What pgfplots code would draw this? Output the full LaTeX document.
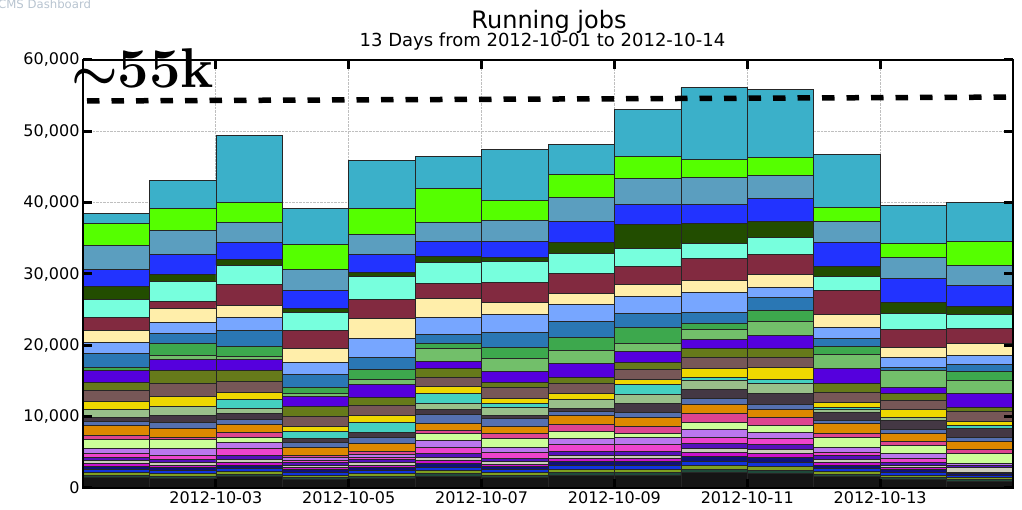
\documentclass[border=0pt]{standalone}
\usepackage{amsmath}
\usepackage{pgfplots}
\pgfplotsset{compat=1.18}
\usepackage{fontspec}
\newfontfamily\dejavu{DejaVu Sans}

% segment colours, bottom of the stack first
\definecolor{c-blk}{HTML}{151515}
\definecolor{c-dtl}{HTML}{1F4A3A}
\definecolor{c-olv2}{HTML}{7FA020}
\definecolor{c-blu2}{HTML}{1133DD}
\definecolor{c-nav}{HTML}{111177}
\definecolor{c-mag2}{HTML}{CC11CC}
\definecolor{c-sil}{HTML}{CCCCBB}
\definecolor{c-pur}{HTML}{5511BB}
\definecolor{c-mag}{HTML}{EE44CC}
\definecolor{c-lav}{HTML}{BB77EE}
\definecolor{c-lim}{HTML}{CCFF99}
\definecolor{c-pnk}{HTML}{DD4490}
\definecolor{c-org}{HTML}{DD8800}
\definecolor{c-sla}{HTML}{5570B0}
\definecolor{c-dgy}{HTML}{443844}
\definecolor{c-sag}{HTML}{99C08A}
\definecolor{c-tur}{HTML}{44D0C0}
\definecolor{c-yel}{HTML}{EED800}
\definecolor{c-brn}{HTML}{775757}
\definecolor{c-olv}{HTML}{667A1A}
\definecolor{c-vio}{HTML}{5500DD}
\definecolor{c-lgr}{HTML}{72BF6A}
\definecolor{c-gr2}{HTML}{3DA84D}
\definecolor{c-mbl}{HTML}{2A77B4}
\definecolor{c-lbl}{HTML}{77A6FF}
\definecolor{c-lyl}{HTML}{FFEEAA}
\definecolor{c-mar}{HTML}{822A40}
\definecolor{c-aqu}{HTML}{77FFDD}
\definecolor{c-dgr}{HTML}{224D00}
\definecolor{c-blu}{HTML}{2233FF}
\definecolor{c-stl}{HTML}{5B9EBF}
\definecolor{c-grn}{HTML}{55FF00}
\definecolor{c-cya}{HTML}{3BB0C9}
\definecolor{cmsgray}{HTML}{B8C4D0}

% running jobs per day (2012-10-01 ... 2012-10-14), one column per segment
\pgfplotstableread{
x blk dtl olv2 blu2 nav mag2 sil pur mag lav lim pnk org sla dgy sag tur yel brn olv vio lgr gr2 mbl lbl lyl mar aqu dgr blu stl grn cya
0.5 1540 280 420 420 420 420 420 420 560 700 1260 560 1400 560 560 1120 0 1120 1540 1120 1680 0 420 1960 1540 1680 1820 2520 1820 2380 3360 3080 1400
1.5 1400 280 420 420 420 280 420 420 560 980 1260 280 1260 840 980 1260 0 1400 1820 1820 1540 560 1680 1400 1540 1960 980 2800 980 2800 3360 3080 3920
2.5 1680 280 420 420 420 420 420 560 980 840 700 700 1120 700 840 700 1260 980 1540 1540 1540 420 1400 2240 1820 1680 2940 2660 840 2380 2800 2800 9380
3.5 1260 280 280 420 420 280 280 420 280 420 0 280 1120 700 560 0 980 700 1400 1400 1400 420 840 1820 1680 1960 2520 2520 560 2520 2940 3500 5040
4.5 1400 280 420 420 420 280 420 420 280 420 0 420 1120 840 700 0 1400 980 1400 1120 1820 700 1400 1680 2660 2800 2660 3220 560 2520 2800 3640 6720
5.5 1680 420 420 420 560 420 420 560 840 980 980 420 980 1260 700 840 1400 980 1260 1260 980 1820 700 1260 2380 2660 2100 2940 840 2100 2660 4760 4480
6.5 1540 280 420 420 420 280 420 420 840 700 1260 700 980 1120 420 1120 560 700 1540 700 1540 1820 1540 2100 2520 1680 2800 2940 560 2240 2940 2800 7140
7.5 1820 420 420 560 560 420 420 560 980 840 980 980 1260 560 420 1260 0 840 1400 840 1960 1820 1820 2240 2380 1540 2800 2800 1540 2940 3360 3220 4200
8.5 1820 420 420 560 560 420 420 560 980 980 560 980 1260 700 1260 1260 1400 700 1400 980 1540 1120 2240 1960 2380 1680 2520 2520 3360 2800 3640 3080 6580
9.5 2240 420 560 560 700 560 560 700 840 1120 980 1260 1260 840 1260 1260 420 1260 1540 1260 1260 1400 840 1540 2800 1680 3080 2100 2800 2660 3780 2520 10080
10.5 2100 420 560 560 700 560 560 700 840 840 980 1120 1120 700 1540 1400 560 1680 1400 1260 1820 1960 1540 1820 1400 1820 2800 2380 2240 3220 3220 2520 9520
11.5 1680 280 420 420 420 420 420 560 420 700 1400 560 1400 420 1120 420 280 700 1400 1260 2100 1960 1120 1120 1540 1820 3360 1960 1400 3360 2940 1960 7420
12.5 1260 280 280 420 420 280 280 420 560 700 1120 560 1120 560 1260 420 0 1120 1260 980 840 2380 0 420 1400 1400 2520 2240 1540 3360 2940 1960 5320
13.5 980 280 280 280 280 140 700 280 0 280 1400 560 1120 560 1260 0 420 560 1400 560 1960 1820 1260 980 1260 1680 2100 1960 1120 2940 2800 3360 5460
}\jobs

\begin{document}
\begin{tikzpicture}
\useasboundingbox (-83pt,-22pt) rectangle (939pt,488pt);

\begin{axis}[
    at={(0pt,0pt)}, anchor=south west,
    scale only axis, width=930pt, height=428pt,
    xmin=0, xmax=14, ymin=0, ymax=60000,
    ybar stacked, bar width=1,
    xtick={2,4,6,8,10,12},
    xticklabels={2012-10-03,2012-10-05,2012-10-07,2012-10-09,2012-10-11,2012-10-13},
    ytick={0,10000,20000,30000,40000,50000,60000},
    scaled y ticks=false,
    /pgf/number format/1000 sep={,},
    /pgf/number format/assume math mode=true,
    tick label style={font=\dejavu\fontsize{16}{16}\selectfont},
    grid=major,
    major grid style={densely dotted, black!25, line width=0.8pt},
    major tick length=0pt,
    axis line style={black, line width=1.2pt},
    every axis plot/.append style={draw=black!85, line width=0.6pt},
]
\pgfplotsinvokeforeach{blk,dtl,olv2,blu2,nav,mag2,sil,pur,mag,lav,lim,pnk,org,sla,dgy,sag,tur,yel,brn,olv,vio,lgr,gr2,mbl,lbl,lyl,mar,aqu,dgr,blu,stl,grn,cya}{
  \addplot[fill=c-#1] table[x=x, y=#1] {\jobs};
}
\end{axis}

% overlay: frame, inner ticks and the ~55k level
\begin{axis}[
    at={(0pt,0pt)}, anchor=south west,
    scale only axis, width=930pt, height=428pt,
    xmin=0, xmax=14, ymin=0, ymax=60000,
    xtick={2,4,6,8,10,12}, xticklabels={},
    ytick={0,10000,20000,30000,40000,50000,60000}, yticklabels={},
    scaled y ticks=false, scaled x ticks=false,
    tick align=inside, major tick length=9pt,
    tick style={black, line width=3pt},
    axis line style={black, line width=1.2pt},
]
\addplot[black, line width=5.5pt, dash pattern=on 12.5pt off 12pt, dash phase=20.5pt, no marks]
  coordinates {(0,54250) (14,54800)};
\end{axis}

\node[anchor=base, inner sep=0] at (466pt,459pt) {\dejavu\fontsize{24}{24}\selectfont Running jobs};
\node[anchor=base, inner sep=0] at (459.5pt,441pt) {\dejavu\fontsize{18}{18}\selectfont 13 Days from 2012-10-01 to 2012-10-14};
\node[anchor=base west, inner sep=0, text=cmsgray] at (-85pt,479.5pt) {\dejavu\fontsize{11.7}{12}\selectfont CMS Dashboard};
\node[anchor=base west, inner sep=0] at (-12pt,400pt) {\fontsize{56}{56}\selectfont\bfseries\raisebox{-2pt}{\scalebox{2.1}{$\boldsymbol{\sim}$}}55k};
\end{tikzpicture}
\end{document}
